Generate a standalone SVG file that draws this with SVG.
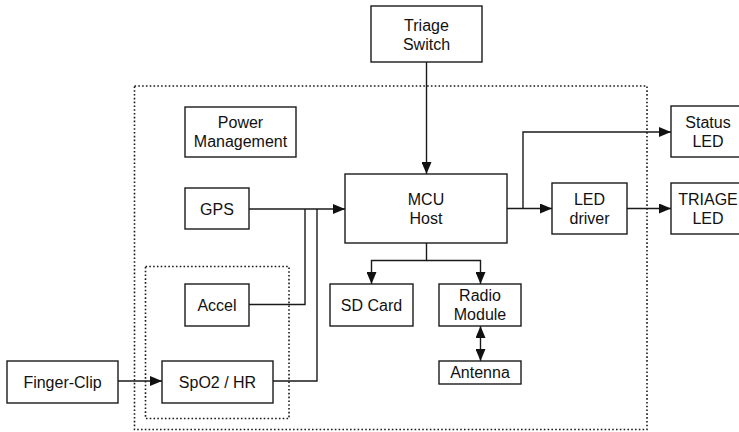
<svg xmlns="http://www.w3.org/2000/svg" width="739" height="432" viewBox="0 0 739 432">
<defs>
<style>
.box{fill:#fff;stroke:#1a1a1a;stroke-width:1.4}
.dot{fill:none;stroke:#1a1a1a;stroke-width:1.6;stroke-dasharray:1.6 2.2}
.ln{fill:none;stroke:#1a1a1a;stroke-width:1.4}
text{font-family:"Liberation Sans",Arial,sans-serif;font-size:16px;fill:#111;text-anchor:middle}
</style>
<marker id="ah" viewBox="0 0 12 10" refX="12" refY="5" markerWidth="12" markerHeight="10" markerUnits="userSpaceOnUse" orient="auto">
<path d="M0,0 L12,5 L0,10 Z" fill="#111"/>
</marker>
<marker id="as" viewBox="0 0 12 10" refX="0" refY="5" markerWidth="12" markerHeight="10" markerUnits="userSpaceOnUse" orient="auto">
<path d="M12,0 L0,5 L12,10 Z" fill="#111"/>
</marker>
</defs>
<rect width="739" height="432" fill="#fff"/>
<g id="boundary">
<rect class="dot" x="134.5" y="86" width="512.5" height="343.5"/>
<rect class="dot" x="145.5" y="266.5" width="143.5" height="152"/>
</g>
<g id="connectors">
<path class="ln" d="M426.5,62 V174" marker-end="url(#ah)"/>
<path class="ln" d="M249,209 H345" marker-end="url(#ah)"/>
<path class="ln" d="M249,304.5 H305 V209"/>
<path class="ln" d="M273,381 H317 V209"/>
<path class="ln" d="M117,381 H162" marker-end="url(#ah)"/>
<path class="ln" d="M507,208.5 H552" marker-end="url(#ah)"/>
<path class="ln" d="M523,208.5 V132 H671" marker-end="url(#ah)"/>
<path class="ln" d="M627,208.5 H671" marker-end="url(#ah)"/>
<path class="ln" d="M426.5,243 V260.5 H371.5 V284" marker-end="url(#ah)"/>
<path class="ln" d="M426.5,260.5 H480.5 V284" marker-end="url(#ah)"/>
<path class="ln" d="M480.5,326 V361" marker-start="url(#as)" marker-end="url(#ah)"/>
</g>
<g id="triage-switch"><rect class="box" x="371" y="6" width="111" height="56"/><text x="426.5" y="31">Triage</text><text x="426.5" y="50">Switch</text></g>
<g id="power-management"><rect class="box" x="185" y="107" width="111" height="50"/><text x="240.5" y="128">Power</text><text x="240.5" y="147">Management</text></g>
<g id="gps"><rect class="box" x="185" y="188" width="64" height="41"/><text x="217" y="214.5">GPS</text></g>
<g id="mcu-host"><rect class="box" x="345" y="174" width="162" height="69"/><text x="426" y="205">MCU</text><text x="426" y="224">Host</text></g>
<g id="led-driver"><rect class="box" x="552" y="183" width="75" height="51"/><text x="589.5" y="205">LED</text><text x="589.5" y="224">driver</text></g>
<g id="status-led"><rect class="box" x="671" y="106" width="76" height="51"/><text x="708" y="128">Status</text><text x="708" y="147">LED</text></g>
<g id="triage-led"><rect class="box" x="671" y="183" width="76" height="51"/><text x="708" y="205">TRIAGE</text><text x="708" y="224">LED</text></g>
<g id="accel"><rect class="box" x="185" y="284" width="64" height="42"/><text x="217" y="310.5">Accel</text></g>
<g id="sd-card"><rect class="box" x="330" y="284" width="83" height="42"/><text x="371.5" y="310.5">SD Card</text></g>
<g id="radio-module"><rect class="box" x="439" y="284" width="82" height="42"/><text x="480" y="301">Radio</text><text x="480" y="320">Module</text></g>
<g id="antenna"><rect class="box" x="439" y="361" width="82" height="23"/><text x="480" y="378">Antenna</text></g>
<g id="finger-clip"><rect class="box" x="7" y="361" width="111" height="42"/><text x="62.5" y="387.5">Finger-Clip</text></g>
<g id="spo2-hr"><rect class="box" x="162" y="361" width="111" height="42"/><text x="217.5" y="387.5">SpO2 / HR</text></g>
</svg>
